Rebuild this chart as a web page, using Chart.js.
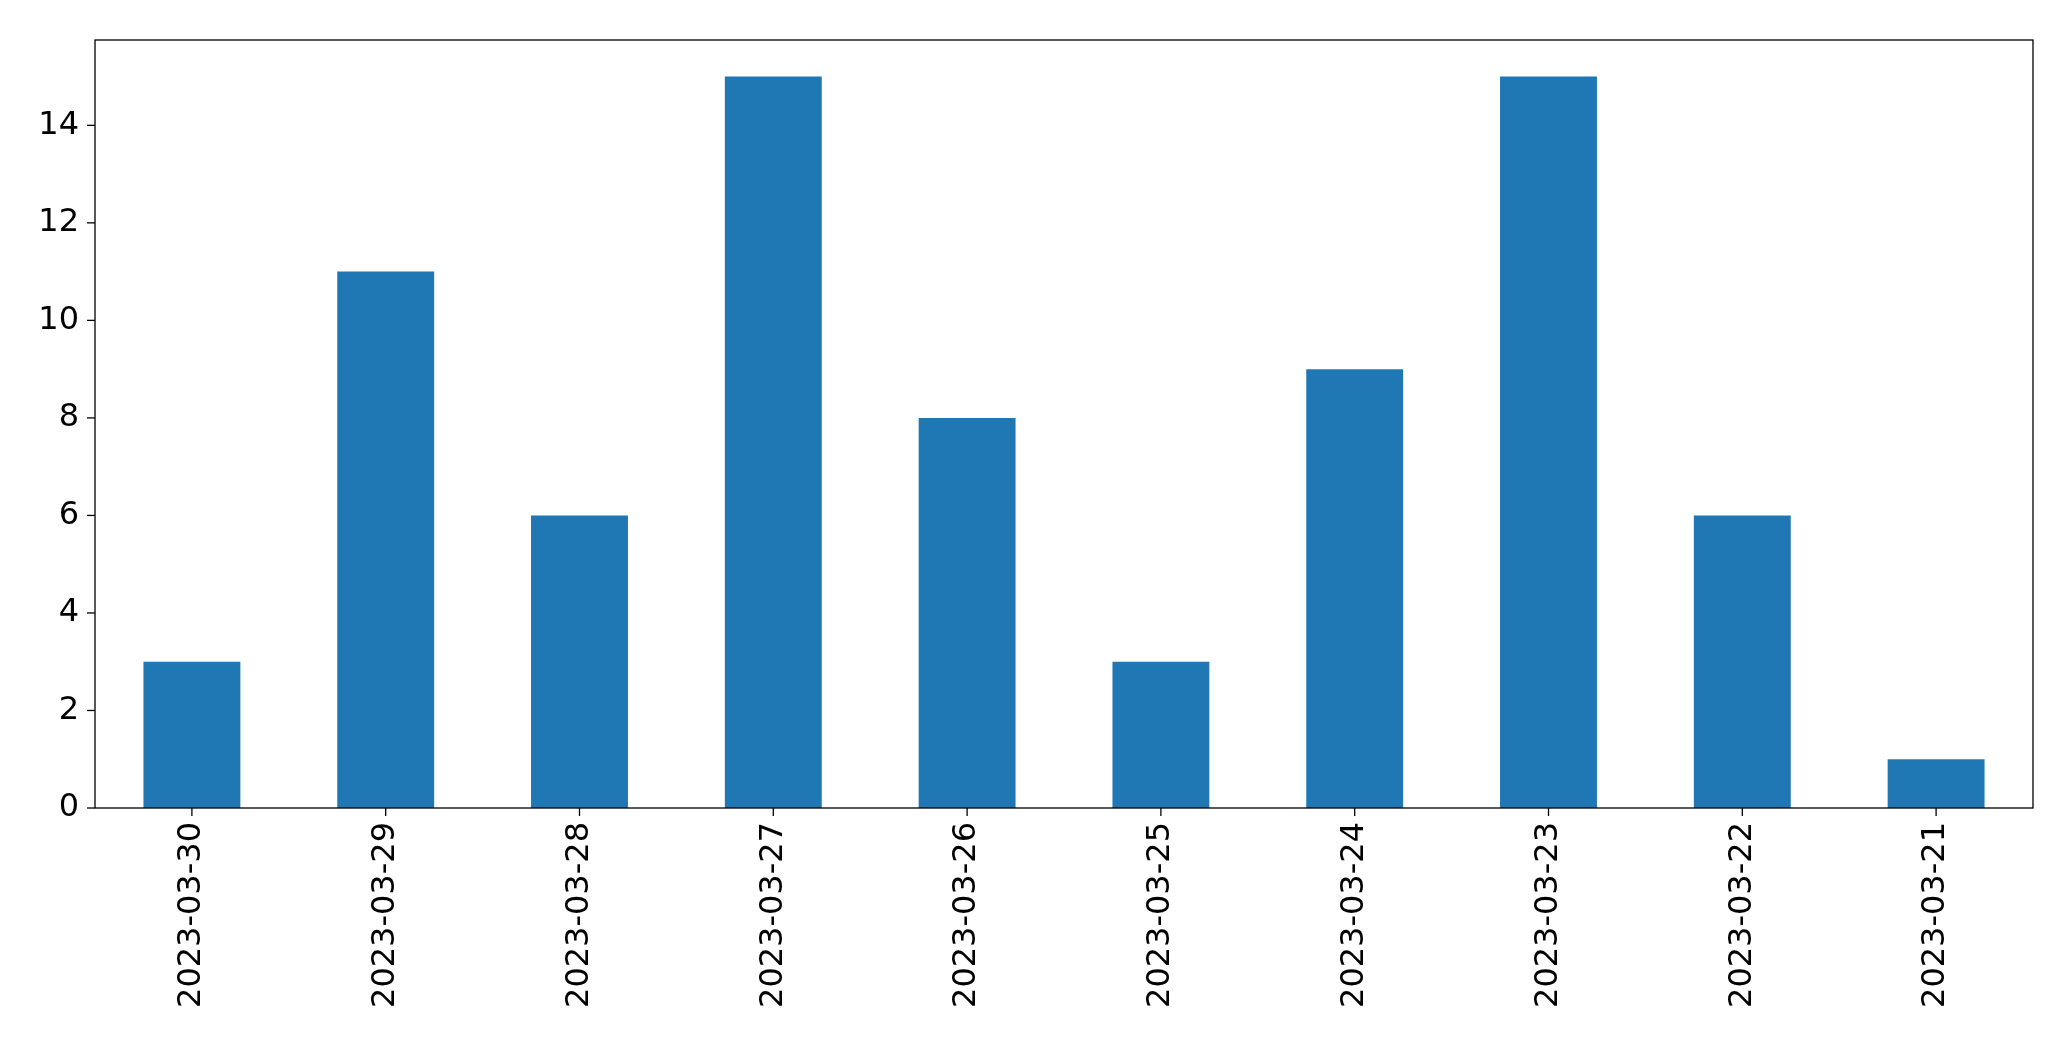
<!DOCTYPE html>
<html><head><meta charset="utf-8">
<script src="https://cdn.jsdelivr.net/npm/chart.js@4"></script>
<style>html,body{margin:0;padding:0;background:#fff}#w{width:2071px;height:1061px}</style>
</head><body><div id="w"><canvas id="c"></canvas></div>
<script>
const categories = ["2023-03-30","2023-03-29","2023-03-28","2023-03-27","2023-03-26","2023-03-25","2023-03-24","2023-03-23","2023-03-22","2023-03-21"];
const counts = [3,11,6,15,8,3,9,15,6,1];
const yTicks = [0,2,4,6,8,10,12,14];
const frame = {id:'frame',afterDraw(c){const a=c.chartArea,x=c.ctx;x.save();x.strokeStyle='#000';x.lineWidth=1.3;x.strokeRect(a.left,a.top,a.right-a.left,a.bottom-a.top);x.restore();}};
new Chart(document.getElementById('c'),{
 type:'bar',
 data:{labels:categories,datasets:[{data:counts,backgroundColor:'#1f77b4',categoryPercentage:1,barPercentage:0.5}]},
 options:{responsive:true,maintainAspectRatio:false,animation:false,
  layout:{padding:{top:40,right:38,left:0,bottom:10}},
  plugins:{legend:{display:false},tooltip:{enabled:false}},
  scales:{
   x:{grid:{display:false,drawBorder:false},border:{display:false},
      ticks:{minRotation:90,maxRotation:90,color:'#000',font:{family:'DejaVu Sans',size:32},padding:6},
      afterFit(s){s.height=253-10;}},
   y:{min:0,max:15.75,grid:{display:false},border:{display:false},
      afterBuildTicks(s){s.ticks=yTicks.map(v=>({value:v}));},
      ticks:{color:'#000',font:{family:'DejaVu Sans',size:32},padding:8},
      afterFit(s){s.width=95;}}
  }},
 plugins:[frame,{id:'tk',afterDraw(c){const x=c.ctx,a=c.chartArea;x.save();x.strokeStyle='#000';x.lineWidth=1.3;
   c.scales.y.ticks.forEach(t=>{const p=c.scales.y.getPixelForValue(t.value);x.beginPath();x.moveTo(a.left,p);x.lineTo(a.left-8,p);x.stroke();});
   categories.forEach((_,i)=>{const p=c.scales.x.getPixelForValue(i);x.beginPath();x.moveTo(p,a.bottom);x.lineTo(p,a.bottom+8);x.stroke();});
   x.restore();}}]
});
</script></body></html>
